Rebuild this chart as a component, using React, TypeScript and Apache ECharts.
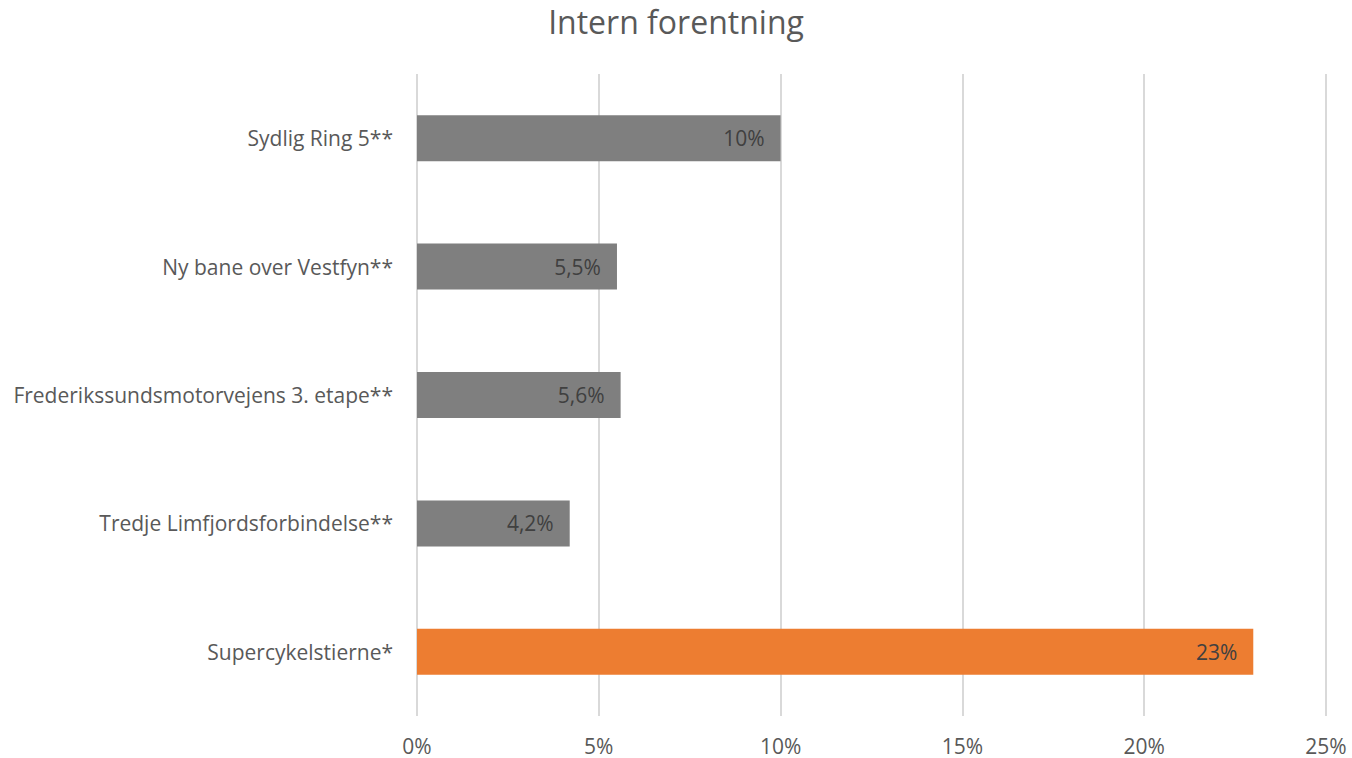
import React, { useEffect, useRef } from "react";
import * as echarts from "echarts";

const title = "Intern forentning";
const categories = [
  "Supercykelstierne*",
  "Tredje Limfjordsforbindelse**",
  "Frederikssundsmotorvejens 3. etape**",
  "Ny bane over Vestfyn**",
  "Sydlig Ring 5**",
];
const values = [23, 4.2, 5.6, 5.5, 10];
const barColors = ["#ED7D31", "#7F7F7F", "#7F7F7F", "#7F7F7F", "#7F7F7F"];
const FONT = "'Open Sans', 'Noto Sans', sans-serif";

const fmt = (v: number) => String(v).replace(".", ",") + "%";

export default function App() {
  const ref = useRef<HTMLDivElement>(null);
  useEffect(() => {
    if (!ref.current) return;
    const chart = echarts.init(ref.current, undefined, { renderer: "svg" });
    chart.setOption({
      animation: false,
      backgroundColor: "#ffffff",
      title: {
        text: title,
        left: "center",
        top: 0,
        textStyle: { fontFamily: FONT, fontSize: 32, fontWeight: "normal", color: "#595959" },
      },
      grid: { left: 417, right: 26, top: 74, bottom: 42, containLabel: false },
      xAxis: {
        type: "value",
        min: 0,
        max: 25,
        interval: 5,
        axisLine: { show: false },
        axisTick: { show: false },
        splitLine: { lineStyle: { color: "#D9D9D9", width: 2 } },
        axisLabel: {
          formatter: (v: number) => v + "%",
          fontFamily: FONT,
          fontSize: 21,
          color: "#595959",
          margin: 19,
        },
      },
      yAxis: {
        type: "category",
        data: categories,
        axisLine: { show: false },
        axisTick: { show: false },
        axisLabel: { fontFamily: FONT, fontSize: 21, color: "#595959", margin: 24 },
      },
      series: [
        {
          type: "bar",
          data: values.map((v, i) => ({ value: v, itemStyle: { color: barColors[i] } })),
          barWidth: 46,
          label: {
            show: true,
            position: "insideRight",
            distance: 16,
            formatter: (p: any) => fmt(p.value),
            fontFamily: FONT,
            fontSize: 21,
            color: "#404040",
          },
        },
      ],
    });
    return () => chart.dispose();
  }, []);
  return <div ref={ref} style={{ width: 1352, height: 758, position: "absolute", left: 0, top: 0 }} />;
}
